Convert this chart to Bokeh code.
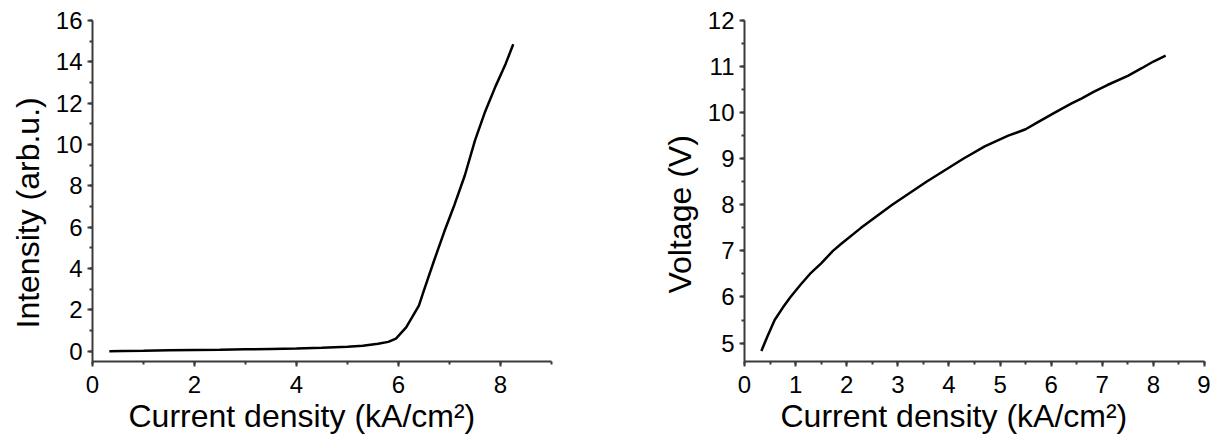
from bokeh.plotting import figure
from bokeh.layouts import row
from bokeh.models import SingleIntervalTicker, Range1d, Title
from bokeh.embed import file_html
from bokeh.resources import INLINE

# Left panel: light output vs current density
cd_int = [0.33, 0.6, 1.0, 1.5, 2.0, 2.5, 3.0, 3.5, 4.0, 4.5, 5.0, 5.3, 5.6, 5.8,
          5.95, 6.15, 6.4, 6.5, 6.7, 6.9, 7.1, 7.3, 7.5, 7.7, 7.9, 8.1, 8.25]
intensity = [0.0, 0.01, 0.02, 0.04, 0.06, 0.07, 0.09, 0.11, 0.13, 0.16, 0.21, 0.26,
             0.36, 0.45, 0.61, 1.15, 2.2, 2.95, 4.4, 5.8, 7.1, 8.5, 10.2, 11.6,
             12.8, 13.9, 14.85]

# Right panel: voltage vs current density
cd_volt = [0.33, 0.45, 0.59, 0.75, 0.9, 1.1, 1.28, 1.5, 1.73, 1.9, 2.28, 2.89, 3.56,
           4.28, 4.7, 5.16, 5.5, 5.75, 6.07, 6.4, 6.6, 6.83, 7.1, 7.5, 7.78, 8.0, 8.24]
voltage = [4.83, 5.15, 5.5, 5.77, 6.0, 6.27, 6.5, 6.73, 7.0, 7.16, 7.5, 8.0, 8.5,
           9.0, 9.27, 9.5, 9.64, 9.8, 10.0, 10.2, 10.31, 10.45, 10.6, 10.8, 10.97,
           11.11, 11.24]

x_label = "Current density (kA/cm\u00b2)"
y_label_left = "Intensity (arb.u.)"
y_label_right = "Voltage (V)"
FONT = "Liberation Sans"


def style(p, xint, yint):
    p.grid.visible = False
    p.outline_line_color = None
    p.background_fill_color = "white"
    p.border_fill_color = "white"
    for ax in (p.xaxis[0], p.yaxis[0]):
        ax.axis_line_width = 2
        ax.axis_line_color = "#3a3a3a"
        ax.major_tick_line_width = 2
        ax.minor_tick_line_width = 2
        ax.major_tick_line_color = "#3a3a3a"
        ax.minor_tick_line_color = "#3a3a3a"
        ax.major_tick_in = 0
        ax.major_tick_out = 5
        ax.minor_tick_in = 0
        ax.minor_tick_out = 3
        ax.major_label_text_font = FONT
        ax.major_label_text_font_size = "24px"
        ax.major_label_text_color = "black"
    p.xaxis[0].ticker = SingleIntervalTicker(interval=xint, num_minor_ticks=2)
    p.yaxis[0].ticker = SingleIntervalTicker(interval=yint, num_minor_ticks=2)
    p.xaxis[0].major_label_standoff = 9
    p.yaxis[0].major_label_standoff = 5


def add_labels(p, xl, x_off, yl, y_off):
    p.add_layout(Title(text=xl, align="left", offset=x_off, standoff=0,
                       text_font=FONT, text_font_size="32px",
                       text_font_style="normal", text_color="black"), "below")
    p.add_layout(Title(text=yl, align="left", offset=y_off, standoff=14,
                       text_font=FONT, text_font_size="32px",
                       text_font_style="normal", text_color="black"), "left")


p1 = figure(frame_width=459, frame_height=341, min_border_left=92, min_border_right=49,
            min_border_top=20, min_border_bottom=76,
            x_range=Range1d(0, 9), y_range=Range1d(-0.5, 16),
            output_backend="svg", toolbar_location=None)
p1.line(cd_int, intensity, line_color="black", line_width=2.5)
style(p1, 2, 2)
add_labels(p1, x_label, 36, y_label_left, 33)

p2 = figure(frame_width=460, frame_height=341, min_border_left=144, min_border_right=6,
            min_border_top=20, min_border_bottom=76,
            x_range=Range1d(0, 9), y_range=Range1d(4.6, 12),
            output_backend="svg", toolbar_location=None)
p2.line(cd_volt, voltage, line_color="black", line_width=2.5)
style(p2, 1, 1)
add_labels(p2, x_label, 36, y_label_right, 68)

layout = row(p1, p2)
open("out.html", "w").write(file_html(layout, INLINE))
